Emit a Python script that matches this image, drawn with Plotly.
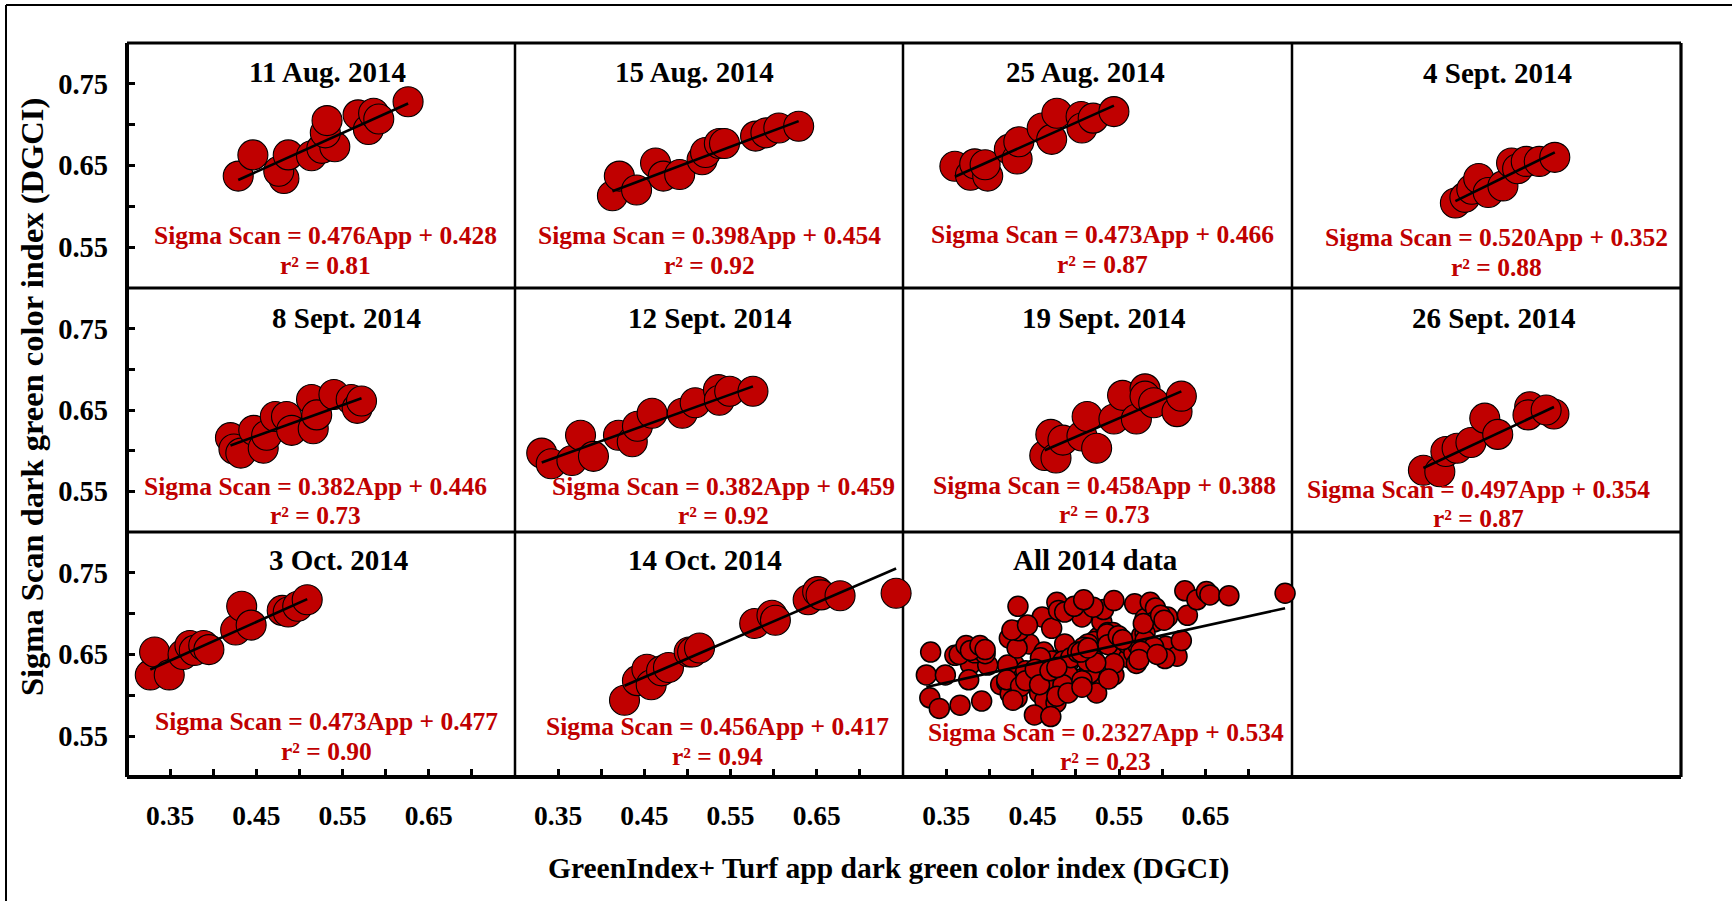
import numpy as np
import plotly.graph_objects as go

# ---------------- data ----------------
aug11_app = [0.429, 0.446, 0.482, 0.476, 0.487, 0.514, 0.526, 0.541, 0.530, 0.532, 0.568, 0.580, 0.586, 0.592, 0.626]
aug11_ss = [0.637, 0.663, 0.634, 0.643, 0.663, 0.662, 0.671, 0.673, 0.690, 0.705, 0.712, 0.694, 0.714, 0.707, 0.728]

aug15_app = [0.413, 0.421, 0.441, 0.463, 0.472, 0.491, 0.517, 0.521, 0.537, 0.543, 0.579, 0.591, 0.606, 0.629]
aug15_ss = [0.613, 0.637, 0.620, 0.653, 0.637, 0.639, 0.657, 0.666, 0.677, 0.677, 0.686, 0.690, 0.696, 0.698]

aug25_app = [0.360, 0.378, 0.383, 0.398, 0.395, 0.423, 0.432, 0.434, 0.461, 0.472, 0.478, 0.506, 0.507, 0.520, 0.544]
aug25_ss = [0.649, 0.638, 0.652, 0.637, 0.651, 0.670, 0.658, 0.679, 0.696, 0.682, 0.714, 0.710, 0.696, 0.708, 0.716]

sep4_app = [0.489, 0.500, 0.508, 0.516, 0.527, 0.544, 0.554, 0.561, 0.571, 0.586, 0.604]
sep4_ss = [0.604, 0.611, 0.621, 0.634, 0.617, 0.625, 0.653, 0.646, 0.655, 0.655, 0.660]

sep8_app = [0.420, 0.424, 0.432, 0.447, 0.458, 0.462, 0.472, 0.485, 0.491, 0.514, 0.516, 0.520, 0.540, 0.560, 0.567, 0.572]
sep8_ss = [0.616, 0.602, 0.597, 0.625, 0.603, 0.619, 0.642, 0.642, 0.625, 0.663, 0.627, 0.644, 0.669, 0.663, 0.652, 0.661]

sep12_app = [0.331, 0.342, 0.366, 0.376, 0.391, 0.420, 0.436, 0.442, 0.459, 0.494, 0.509, 0.536, 0.537, 0.549, 0.576]
sep12_ss = [0.597, 0.584, 0.588, 0.619, 0.593, 0.619, 0.611, 0.630, 0.646, 0.646, 0.659, 0.675, 0.662, 0.673, 0.673]

sep19_app = [0.464, 0.471, 0.477, 0.485, 0.507, 0.513, 0.524, 0.544, 0.554, 0.570, 0.580, 0.580, 0.590, 0.617, 0.622]
sep19_ss = [0.594, 0.620, 0.591, 0.613, 0.618, 0.642, 0.603, 0.639, 0.668, 0.639, 0.676, 0.667, 0.659, 0.648, 0.667]

sep26_app = [0.452, 0.471, 0.478, 0.491, 0.507, 0.523, 0.538, 0.575, 0.573, 0.603, 0.594]
sep26_ss = [0.576, 0.574, 0.599, 0.603, 0.610, 0.640, 0.620, 0.654, 0.644, 0.645, 0.650]

oct3_app = [0.327, 0.332, 0.349, 0.365, 0.373, 0.378, 0.389, 0.395, 0.426, 0.433, 0.444, 0.480, 0.487, 0.498, 0.509]
oct3_ss = [0.625, 0.653, 0.625, 0.650, 0.661, 0.655, 0.661, 0.656, 0.680, 0.709, 0.686, 0.704, 0.702, 0.709, 0.717]

oct14_app = [0.427, 0.442, 0.453, 0.458, 0.470, 0.478, 0.502, 0.506, 0.514, 0.578, 0.598, 0.602, 0.640, 0.651, 0.655, 0.677, 0.742]
oct14_ss = [0.594, 0.618, 0.632, 0.613, 0.630, 0.634, 0.653, 0.653, 0.658, 0.688, 0.698, 0.692, 0.717, 0.727, 0.723, 0.722, 0.725]

panel_titles = ["11 Aug. 2014", "15 Aug. 2014", "25 Aug. 2014", "4 Sept. 2014",
                "8 Sept. 2014", "12 Sept. 2014", "19 Sept. 2014", "26 Sept. 2014",
                "3 Oct. 2014", "14 Oct. 2014", "All 2014 data"]
slopes = [0.476, 0.398, 0.473, 0.520, 0.382, 0.382, 0.458, 0.497, 0.473, 0.456, 0.2327]
intercepts = [0.428, 0.454, 0.466, 0.352, 0.446, 0.459, 0.388, 0.354, 0.477, 0.417, 0.534]
slope_labels = ["0.476", "0.398", "0.473", "0.520", "0.382", "0.382", "0.458", "0.497", "0.473", "0.456", "0.2327"]
intercept_labels = ["0.428", "0.454", "0.466", "0.352", "0.446", "0.459", "0.388", "0.354", "0.477", "0.417", "0.534"]
r2_labels = ["0.81", "0.92", "0.87", "0.88", "0.73", "0.92", "0.73", "0.87", "0.90", "0.94", "0.23"]

x_tick_vals = [0.35, 0.40, 0.45, 0.50, 0.55, 0.60, 0.65, 0.70]
x_tick_text = ["0.35", "", "0.45", "", "0.55", "", "0.65", ""]
y_tick_vals = [0.55, 0.60, 0.65, 0.70, 0.75]
y_tick_text = ["0.55", "", "0.65", "", "0.75"]

x_title = "GreenIndex+ Turf app dark green color index (DGCI)"
y_title = "Sigma Scan dark green color index (DGCI)"

app_sets = [aug11_app, aug15_app, aug25_app, sep4_app, sep8_app, sep12_app,
            sep19_app, sep26_app, oct3_app, oct14_app]
ss_sets = [aug11_ss, aug15_ss, aug25_ss, sep4_ss, sep8_ss, sep12_ss,
           sep19_ss, sep26_ss, oct3_ss, oct14_ss]
all_app = [v for s in app_sets for v in s]
all_ss = [v for s in ss_sets for v in s]
app_sets.append(all_app)
ss_sets.append(all_ss)

# ---------------- layout geometry ----------------
W, H = 1732, 901
col_px = [127, 515, 903, 1292, 1681]
row_px = [43, 288, 532, 777]
XR = [0.30, 0.75]
YR = [0.50, 0.80]

RED = "#C00000"
FONT = "Liberation Serif, Times New Roman, serif"

# annotation pixel positions (center) for titles / equations / r2
title_pos = [(327, 72), (694, 72), (1085, 72), (1497, 73),
             (346, 318), (710, 318), (1104, 318), (1494, 318),
             (338, 560), (705, 560), (1095, 560)]
eq_pos = [(325, 235), (709, 235), (1102, 234), (1496, 238),
          (315, 486), (723, 486), (1104, 485), (1478, 489),
          (326, 721), (717, 726), (1106, 732)]
r2_pos = [(325, 265), (709, 265), (1102, 264), (1496, 267),
          (315, 515), (723, 515), (1104, 514), (1478, 518),
          (326, 751), (717, 756), (1105, 761)]

fig = go.Figure()


def px2paper(x, y):
    return x / W, 1 - y / H


layout = dict(
    width=W, height=H,
    margin=dict(l=0, r=0, t=0, b=0),
    paper_bgcolor="white",
    plot_bgcolor="rgba(0,0,0,0)",
    showlegend=False,
    font=dict(family=FONT, size=26, color="black", weight="bold"),
)

for k in range(12):
    r, c = divmod(k, 4)
    idx = k + 1
    xa = "xaxis" if idx == 1 else f"xaxis{idx}"
    ya = "yaxis" if idx == 1 else f"yaxis{idx}"
    xdict = dict(domain=[col_px[c] / W, col_px[c + 1] / W], range=XR,
                 showgrid=False, zeroline=False, showline=False,
                 anchor=f"y{'' if idx == 1 else idx}", fixedrange=True)
    ydict = dict(domain=[1 - row_px[r + 1] / H, 1 - row_px[r] / H], range=YR,
                 showgrid=False, zeroline=False, showline=False,
                 anchor=f"x{'' if idx == 1 else idx}", fixedrange=True)
    if r == 2:
        xdict.update(ticks="inside", ticklen=8, tickwidth=3, tickcolor="black",
                     tickvals=x_tick_vals, ticktext=x_tick_text,
                     ticklabelstandoff=19,
                     tickfont=dict(family=FONT, size=27.5, color="black", weight="bold"))
    else:
        xdict.update(showticklabels=False, ticks="")
    if c == 0:
        ydict.update(ticks="inside", ticklen=8, tickwidth=3, tickcolor="black",
                     tickvals=y_tick_vals, ticktext=y_tick_text,
                     ticklabelstandoff=18,
                     tickfont=dict(family=FONT, size=28.5, color="black", weight="bold"))
    else:
        ydict.update(showticklabels=False, ticks="")
    layout[xa] = xdict
    layout[ya] = ydict

annotations = []
for k in range(11):
    xs = app_sets[k]
    ys = ss_sets[k]
    xref = "x" if k == 0 else f"x{k + 1}"
    yref = "y" if k == 0 else f"y{k + 1}"
    is_all = (k == 10)
    fig.add_trace(go.Scatter(
        x=xs, y=ys, mode="markers", xaxis=xref, yaxis=yref, cliponaxis=False,
        marker=dict(size=20 if is_all else 30, color=RED,
                    line=dict(color="black", width=1.5 if is_all else 1.1)),
        hoverinfo="skip"))
    x0, x1 = min(xs), max(xs)
    fig.add_trace(go.Scatter(
        x=[x0, x1], y=[slopes[k] * x0 + intercepts[k], slopes[k] * x1 + intercepts[k]],
        mode="lines", xaxis=xref, yaxis=yref, cliponaxis=False,
        line=dict(color="black", width=2.6), hoverinfo="skip"))

    tx, ty = px2paper(*title_pos[k])
    annotations.append(dict(x=tx, y=ty, xref="paper", yref="paper", text=panel_titles[k],
                            showarrow=False, xanchor="center", yanchor="middle",
                            font=dict(family=FONT, size=29, color="black", weight="bold")))
    ex, ey = px2paper(*eq_pos[k])
    annotations.append(dict(x=ex, y=ey, xref="paper", yref="paper",
                            text=f"Sigma Scan = {slope_labels[k]}App + {intercept_labels[k]}",
                            showarrow=False, xanchor="center", yanchor="middle",
                            font=dict(family=FONT, size=25.5, color=RED, weight="bold")))
    rx, ry = px2paper(*r2_pos[k])
    annotations.append(dict(x=rx, y=ry, xref="paper", yref="paper",
                            text=f"r² = {r2_labels[k]}",
                            showarrow=False, xanchor="center", yanchor="middle",
                            font=dict(family=FONT, size=25.5, color=RED, weight="bold")))

ax_, ay_ = px2paper(888, 868)
annotations.append(dict(x=ax_, y=ay_, xref="paper", yref="paper", text=x_title,
                        showarrow=False, xanchor="center", yanchor="middle",
                        font=dict(family=FONT, size=29.5, color="black", weight="bold")))
bx_, by_ = px2paper(32, 397)
annotations.append(dict(x=bx_, y=by_, xref="paper", yref="paper", text=y_title,
                        showarrow=False, xanchor="center", yanchor="middle", textangle=-90,
                        font=dict(family=FONT, size=32.5, color="black", weight="bold")))
layout["annotations"] = annotations

# frame lines
shapes = []


def pline(xa, ya, xb, yb, w):
    x0, y0 = px2paper(xa, ya)
    x1, y1 = px2paper(xb, yb)
    shapes.append(dict(type="line", xref="paper", yref="paper", x0=x0, y0=y0, x1=x1, y1=y1,
                       line=dict(color="black", width=w), layer="below"))


# outer figure border (left and top)
pline(6, 5, 6, 905, 2)
pline(6, 5, 1740, 5, 2)
# grid frame
pline(col_px[0], row_px[0], col_px[0], row_px[-1], 4)
pline(col_px[0], row_px[-1], col_px[-1], row_px[-1], 4)
pline(col_px[0], row_px[0], col_px[-1], row_px[0], 3.2)
pline(col_px[-1], row_px[0], col_px[-1], row_px[-1], 3.2)
for cx in col_px[1:-1]:
    pline(cx, row_px[0], cx, row_px[-1], 2.5)
for ry_ in row_px[1:-1]:
    pline(col_px[0], ry_, col_px[-1], ry_, 3)
layout["shapes"] = shapes

fig.update_layout(**layout)
fig.write_html("out.html")
